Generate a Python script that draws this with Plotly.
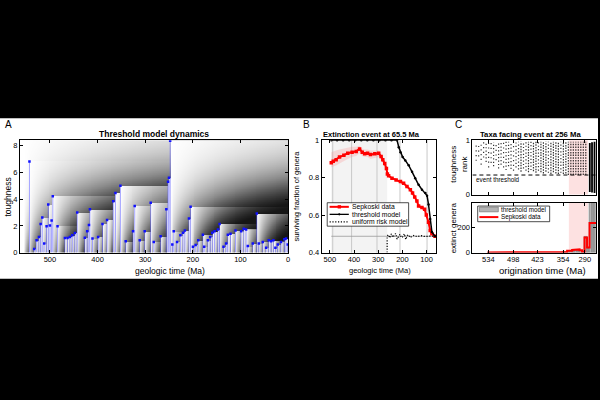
import numpy as np
import plotly.graph_objects as go

# ---------------- Panel A: threshold model extinction events ----------------
event_time = [543, 533, 528, 523, 519.5, 516, 512, 507, 503.5, 500, 496.5, 494, 484,
              468.5, 463, 458, 453, 447.6, 442.7, 426.7, 421.8, 418, 416, 410.6, 398.7,
              389.6, 380, 367, 362.4, 352, 340.8, 325.4, 322, 311.4, 301, 288.4, 282,
              267.5, 255.6, 252, 250, 247.5, 243, 240, 233, 226, 220.6, 216.5, 208,
              204.6, 199.7, 194, 188.5, 178.8, 176, 168.3, 163.4, 159, 154.3, 147.3,
              143.8, 135.5, 130, 126.4, 120.8, 110.3, 98.5, 93, 88, 84.5, 74, 65.6,
              61.4, 53, 46, 40.5, 35.6, 30.7, 26.5, 21.6, 14.7, 7.7, 4.2, 0.7]
event_height = [6.83, 0.27, 0.93, 1.17, 2.15, 2.63, 0.68, 1.98, 3.6, 2.02, 2.4, 4.22, 1.98,
                1.1, 1.1, 1.17, 1.29, 1.46, 3.0, 1.12, 1.59, 2.07, 3.24, 1.05, 1.17,
                2.15, 2.44, 3.85, 4.46, 5.0, 0.85, 1.59, 3.49, 0.93, 1.59, 3.73, 0.8,
                1.22, 3.24, 5.3, 5.6, 8.37, 0.61, 1.59, 0.8, 1.29, 1.49, 1.66, 2.56,
                3.44, 0.44, 0.56, 0.93, 1.34, 0.44, 0.93, 1.17, 1.49, 1.59, 1.73,
                2.15, 0.44, 0.68, 1.34, 1.41, 1.66, 1.59, 1.78, 1.73, 0.49, 0.68, 2.93,
                0.68, 0.8, 0.37, 0.93, 0.85, 0.93, 0.37, 0.61, 0.8, 1.0, 1.05, 0.61]

# ---------------- Panel B: survival curves ----------------
sep_t = [494, 486, 474, 460, 442, 426, 408, 391, 377, 366, 356, 344, 332, 314, 298, 288,
         281, 273, 266, 262, 257, 243, 226, 208, 195, 181, 167, 158, 149, 140, 133, 119,
         108, 101, 92, 85, 78, 65.5]
sep_f = [0.88, 0.887, 0.896, 0.91, 0.92, 0.93, 0.936, 0.94, 0.953, 0.936, 0.927, 0.93,
         0.923, 0.927, 0.93, 0.913, 0.896, 0.875, 0.849, 0.82, 0.81, 0.797, 0.788, 0.78,
         0.77, 0.753, 0.736, 0.718, 0.697, 0.675, 0.649, 0.64, 0.631, 0.6, 0.562, 0.518,
         0.5, 0.487]
band_t = [494, 486, 474, 460, 442, 426, 408, 391, 377, 366, 356, 344, 332, 314, 298, 288,
          281, 273, 266, 262]
band_hi = [0.935, 0.94, 0.945, 0.95, 0.955, 0.96, 0.965, 0.965, 0.97, 0.955, 0.95, 0.95,
           0.945, 0.945, 0.945, 0.93, 0.91, 0.89, 0.86, 0.825]
band_lo = [0.855, 0.86, 0.865, 0.875, 0.89, 0.9, 0.91, 0.915, 0.93, 0.915, 0.91, 0.91,
           0.9, 0.905, 0.91, 0.895, 0.88, 0.86, 0.835, 0.815]
thr_t = [494, 470, 445, 420, 395, 370, 345, 320, 295, 270, 245, 222, 215, 208, 199, 188,
         174, 160, 147, 133, 119, 105, 98, 92, 85, 78, 65.5]
thr_f = [1.0, 1.0, 1.0, 1.0, 1.0, 1.0, 1.0, 1.0, 1.0, 1.0, 1.0, 1.0, 0.962, 0.936, 0.91,
         0.892, 0.866, 0.831, 0.797, 0.762, 0.736, 0.718, 0.704, 0.657, 0.579, 0.51, 0.487]
uni_t = [263, 263, 258, 252, 246, 240, 234, 228, 222, 216, 210, 204, 198, 192, 186, 180,
         174, 168, 160, 150, 140, 130, 120, 110, 100, 90, 80, 70, 65.5]
uni_f = [0.4, 0.488, 0.495, 0.478, 0.5, 0.482, 0.49, 0.502, 0.472, 0.49, 0.498, 0.48,
         0.485, 0.5, 0.47, 0.49, 0.495, 0.48, 0.488, 0.492, 0.485, 0.488, 0.49, 0.486,
         0.488, 0.487, 0.488, 0.487, 0.487]
ref_level = 0.487
period_lines = [488, 410, 305, 210, 98]
shade_span = [494, 263]
legend_b = ['Sepkoski data', 'threshold model', 'uniform risk model']

# ---------------- Panel C: taxa facing event at 256 Ma ----------------
stage_ticks = [6.9, 16.9, 26.6, 36.9, 45.6]
stage_labels = ['534', '498', '423', '354', '290']
event_stages = [39.2, 46.9]
threshold_rank = 0.36
col_stage = list(range(2, 47))
col_low = [0.62, 0.7, 0.55, 0.68, 0.6, 0.5, 0.58, 0.52, 0.63, 0.48, 0.55, 0.5, 0.45, 0.52,
           0.47, 0.44, 0.5, 0.46, 0.42, 0.48, 0.44, 0.41, 0.45, 0.43, 0.4, 0.44, 0.41,
           0.39, 0.42, 0.4, 0.38, 0.41, 0.39, 0.38, 0.4, 0.38, 0.39,
           0.36, 0.36, 0.36, 0.36, 0.36, 0.36, 0.36, 0.36]
col_high = [0.9, 0.95, 0.93, 0.96, 0.97, 0.95, 0.97, 0.96, 0.97, 0.97, 0.97, 0.97, 0.97,
            0.97, 0.97, 0.97, 0.97, 0.97, 0.97, 0.97, 0.97, 0.97, 0.97, 0.97, 0.97, 0.97,
            0.97, 0.97, 0.97, 0.97, 0.97, 0.97, 0.97, 0.97, 0.97, 0.97, 0.97,
            0.97, 0.97, 0.97, 0.97, 0.97, 0.97, 0.97, 0.97]
col_density = [1, 1, 1, 1, 2, 1, 1, 2, 1, 2, 2, 1, 2, 2, 2, 1, 2, 2, 3, 2, 2, 3, 2, 3, 3,
               2, 3, 3, 3, 2, 3, 3, 3, 3, 2, 3, 3, 3, 3, 3, 3, 3, 3, 3, 3]
bar_stage = [47.6, 48.5, 49.5]
bar_low = [0.05, 0.04, 0.03]
bar_high = [0.95, 0.96, 0.97]

hist_stage = list(range(7, 51))
sep_extinct = [1, 2, 1, 1, 3, 2, 1, 2, 2, 1, 3, 2, 2, 1, 2, 3, 2, 1, 2, 2, 3, 2, 1, 2, 3,
               2, 2, 3, 2, 4, 4, 4, 14, 14, 20, 25, 25, 18, 6, 118, 40, 232, 232, 232]
thr_extinct = [0, 0, 0, 0, 0, 0, 0, 0, 0, 0, 0, 0, 0, 0, 0, 0, 0, 0, 0, 0, 0, 0, 0, 0, 0,
               0, 0, 0, 1, 2, 3, 4, 8, 10, 12, 15, 15, 12, 8, 125, 30, 420, 420, 420]
legend_c = ['threshold model', 'Sepkoski data']

FONT = "Liberation Sans"
DOTTED = '1.2px,1.6px'

def px(x):
    return x / 600.0

def py(y):
    return 1 - y / 400.0

fig = go.Figure()

# ---- Panel A heatmap (density of surviving lineages, derived from events) ----
T0, r0, lam = 555.0, 0.1, 1.6
ev = sorted(zip(event_time, event_height), key=lambda e: -e[0])
tgrid = np.arange(560, -1, -2.0)
ygrid = np.arange(0.015, 8.43, 0.03)
Z = np.zeros((len(ygrid), len(tgrid)))
for i, yv in enumerate(ygrid):
    last = T0
    k = 0
    rate = r0 * np.exp(-yv / lam)
    for j, tv in enumerate(tgrid):
        while k < len(ev) and ev[k][0] >= tv:
            if ev[k][1] > yv:
                last = ev[k][0]
            k += 1
        age = max(last - tv, 0.0)
        Z[i, j] = 1 - np.exp(-age * rate)
Z = np.round(np.minimum(Z, 0.92), 3)
fig.add_trace(go.Heatmap(x=tgrid, y=ygrid, z=Z,
                         colorscale=[[0, '#ffffff'], [0.5, '#8a8a8a'], [1, '#000000']],
                         zmin=0, zmax=1, showscale=False, xaxis='x', yaxis='y',
                         hoverinfo='skip'))
lx, ly = [], []
for t, h in zip(event_time, event_height):
    lx += [t, t, None]
    ly += [0, h, None]
fig.add_trace(go.Scatter(x=lx, y=ly, mode='lines', line=dict(color='rgba(90,90,255,0.55)', width=1.0),
                         xaxis='x', yaxis='y', showlegend=False, hoverinfo='skip'))
fig.add_trace(go.Scatter(x=event_time, y=event_height, mode='markers',
                         marker=dict(color='#1010ff', size=2.5, symbol='square'),
                         xaxis='x', yaxis='y', showlegend=False, hoverinfo='skip'))

# ---- Panel B ----
fig.add_trace(go.Scatter(x=band_t + band_t[::-1], y=band_hi + band_lo[::-1], fill='toself',
                         fillcolor='rgba(255,120,120,0.22)', line=dict(width=0),
                         xaxis='x2', yaxis='y2', showlegend=False, hoverinfo='skip'))
fig.add_trace(go.Scatter(x=[sep_t[0], sep_t[-1]], y=[ref_level, ref_level], mode='lines',
                         line=dict(color='#9a9a9a', width=0.8), xaxis='x2', yaxis='y2',
                         showlegend=False, hoverinfo='skip'))
fig.add_trace(go.Scatter(x=sep_t, y=sep_f, mode='lines+markers', name=legend_b[0],
                         line=dict(color='#ff0000', width=2),
                         marker=dict(symbol='square', size=3.5, color='#ff0000'),
                         xaxis='x2', yaxis='y2', showlegend=False))
fig.add_trace(go.Scatter(x=thr_t, y=thr_f, mode='lines+markers', name=legend_b[1],
                         line=dict(color='#000000', width=1.5),
                         marker=dict(size=2.5, color='#000000'),
                         xaxis='x2', yaxis='y2', showlegend=False))
fig.add_trace(go.Scatter(x=uni_t, y=uni_f, mode='lines', name=legend_b[2],
                         line=dict(color='#000000', width=1.2, dash=DOTTED),
                         xaxis='x2', yaxis='y2', showlegend=False))

# ---- Panel C top ----
dash_for = {1: '1.2px,3.5px', 2: '1.2px,2.2px', 3: '1.5px,1.2px'}
for s, lo, hi, d in zip(col_stage, col_low, col_high, col_density):
    fig.add_trace(go.Scatter(x=[s, s], y=[lo, hi], mode='lines',
                             line=dict(color='rgba(0,0,0,0.8)', width=1.2, dash=dash_for[d]),
                             xaxis='x3', yaxis='y3', showlegend=False, hoverinfo='skip'))
bx, by = [], []
for s, lo, hi in zip(bar_stage, bar_low, bar_high):
    bx += [s, s, None]
    by += [lo, hi, None]
fig.add_trace(go.Scatter(x=bx, y=by, mode='lines', line=dict(color='#000000', width=1.8),
                         xaxis='x3', yaxis='y3', showlegend=False, hoverinfo='skip'))
fig.add_trace(go.Scatter(x=[0.5, 50.1], y=[threshold_rank, threshold_rank], mode='lines',
                         line=dict(color='#000000', width=1, dash='4px,3px'),
                         xaxis='x3', yaxis='y3', showlegend=False, hoverinfo='skip'))

# ---- Panel C bottom ----
fig.add_trace(go.Bar(x=hist_stage, y=thr_extinct, width=1.0, name=legend_c[0],
                     marker=dict(color='#b4b4b4', line=dict(color='#6a6a6a', width=0.6)),
                     xaxis='x4', yaxis='y4', showlegend=False))
sx, sy = [], []
for s, v in zip(hist_stage, sep_extinct):
    sx += [s - 0.5, s + 0.5]
    sy += [v, v]
fig.add_trace(go.Scatter(x=sx, y=sy, mode='lines', name=legend_c[1],
                         line=dict(color='#ff0000', width=2),
                         xaxis='x4', yaxis='y4', showlegend=False))

axis_common = dict(showline=True, mirror='ticks', linecolor='#000000', linewidth=0.8,
                   ticks='inside', ticklen=3, tickwidth=0.8, tickcolor='#000000',
                   showgrid=False, zeroline=False,
                   tickfont=dict(family=FONT, size=7.5, color='#000000'))

yA = [py(254.3), py(139.3)]
fig.update_layout(
    width=600, height=400, margin=dict(l=0, r=0, t=0, b=0),
    paper_bgcolor='#000000', plot_bgcolor='#ffffff',
    font=dict(family=FONT, color='#000000'),
    barmode='overlay', bargap=0, showlegend=False,
    xaxis=dict(domain=[px(20), px(289)], range=[563, 0], tickvals=[500, 400, 300, 200, 100, 0],
               anchor='y', **axis_common),
    yaxis=dict(domain=yA, range=[0, 8.42], tickvals=[0, 2, 4, 6, 8], anchor='x', **axis_common),
    xaxis2=dict(domain=[px(322.7), px(437.7)], range=[534, 60],
                tickvals=[500, 400, 300, 200, 100], anchor='y2', **axis_common),
    yaxis2=dict(domain=yA, range=[0.4, 1.0], tickvals=[0.4, 0.6, 0.8, 1.0],
                ticktext=['0.4', '0.6', '0.8', '1'], anchor='x2', **axis_common),
    xaxis3=dict(domain=[px(474), px(598)], range=[0.5, 50.1], tickvals=stage_ticks,
                showticklabels=False, anchor='y3', **axis_common),
    yaxis3=dict(domain=[py(195), py(139.3)], range=[0, 1], tickvals=[0, 1], anchor='x3',
                **axis_common),
    xaxis4=dict(domain=[px(474), px(598)], range=[0.5, 50.1], tickvals=stage_ticks,
                ticktext=stage_labels, anchor='y4', **axis_common),
    yaxis4=dict(domain=[py(254.3), py(203.3)], range=[0, 392], tickvals=[0, 200], anchor='x4',
                **axis_common),
)

def rect(x0, y0, x1, y1, fill, lc=None, lw=0, layer='above'):
    return dict(type='rect', xref='paper', yref='paper', x0=px(x0), x1=px(x1), y0=py(y1), y1=py(y0),
                fillcolor=fill, line=dict(color=lc or fill, width=lw), layer=layer)

def pline(x0, y0, x1, y1, color, width, dash='solid'):
    return dict(type='line', xref='paper', yref='paper', x0=px(x0), x1=px(x1), y0=py(y0), y1=py(y1),
                line=dict(color=color, width=width, dash=dash), layer='above')

shapes = [
    rect(0, 117, 600, 281, '#ffffff', layer='below'),
    dict(type='rect', xref='x2', yref='y2 domain', x0=shade_span[0], x1=shade_span[1], y0=0, y1=1,
         fillcolor='#f3f3f3', line=dict(width=0), layer='below'),
    dict(type='rect', xref='x3', yref='y3 domain', x0=event_stages[0], x1=event_stages[1], y0=0, y1=1,
         fillcolor='#fde1e1', line=dict(width=0), layer='below'),
    dict(type='rect', xref='x4', yref='y4 domain', x0=event_stages[0], x1=event_stages[1], y0=0, y1=1,
         fillcolor='#fde1e1', line=dict(width=0), layer='below'),
]
for pl in period_lines:
    shapes.append(dict(type='line', xref='x2', yref='y2 domain', x0=pl, x1=pl, y0=0, y1=1,
                       line=dict(color='#c8c8c8', width=1), layer='below'))

# legend box for panel B (drawn by hand, in pixel positions)
shapes += [
    rect(328.3, 203.3, 410, 227.3, '#ffffff', '#000000', 0.7),
    pline(330.7, 207.5, 350, 207.5, '#ff0000', 2),
    rect(338.8, 205.8, 342.2, 209.2, '#ff0000'),
    pline(330.7, 215.2, 350, 215.2, '#000000', 1.3),
    dict(type='circle', xref='paper', yref='paper', x0=px(339.3), x1=px(341.5), y0=py(216.3), y1=py(214.1),
         fillcolor='#000000', line=dict(color='#000000', width=0), layer='above'),
    pline(330.7, 222.8, 350, 222.8, '#000000', 1.2, DOTTED),
]
# legend box for panel C
shapes += [
    rect(479.3, 206.7, 551.5, 222.7, '#ffffff', '#000000', 0.7),
    rect(481, 207.8, 500, 212.6, '#b4b4b4', '#6a6a6a', 0.6),
    pline(481, 218, 500, 218, '#ff0000', 2),
]
fig.update_layout(shapes=shapes)

def ann(text, x, y, size, bold=False, angle=0, xanchor='center', yanchor='middle', xref='paper', yref='paper'):
    return dict(text=('<b>%s</b>' % text) if bold else text, x=x, y=y, xref=xref, yref=yref,
                showarrow=False, textangle=angle, xanchor=xanchor, yanchor=yanchor,
                font=dict(family=FONT, size=size, color='#000000'))

annotations = [
    ann('A', px(3), py(123), 10, xanchor='left'),
    ann('B', px(302), py(123), 10, xanchor='left'),
    ann('C', px(455), py(123), 10, xanchor='left'),
    ann('Threshold model dynamics', px(154.5), py(133.5), 8.5, bold=True),
    ann('Extinction event at 65.5 Ma', px(373), py(133.5), 7.5, bold=True),
    ann('Taxa facing event at 256 Ma', px(532.5), py(133.5), 7.7, bold=True),
    ann('geologic time (Ma)', px(171), py(273), 8.5),
    ann('geologic time (Ma)', px(381), py(273), 7.5),
    ann('origination time (Ma)', px(544), py(273), 9.5),
    ann('toughness', px(8), py(197), 8.5, angle=-90),
    ann('surviving fraction of genera', px(298), py(197), 7.5, angle=-90),
    ann('toughness<br>rank', px(460), py(164), 8, angle=-90),
    ann('extinct genera', px(455), py(229), 8, angle=-90),
    ann('event threshold', 1.0, 0.27, 6.3, xanchor='left', xref='x3', yref='y3'),
]
for i, name in enumerate(legend_b):
    annotations.append(ann(name, px(351), py([207.5, 215.2, 222.8][i]), 6.8, xanchor='left'))
for i, name in enumerate(legend_c):
    annotations.append(ann(name, px(500.5), py([210.2, 218][i]), 6.3, xanchor='left'))
fig.update_layout(annotations=annotations)

fig.write_html('out.html')
